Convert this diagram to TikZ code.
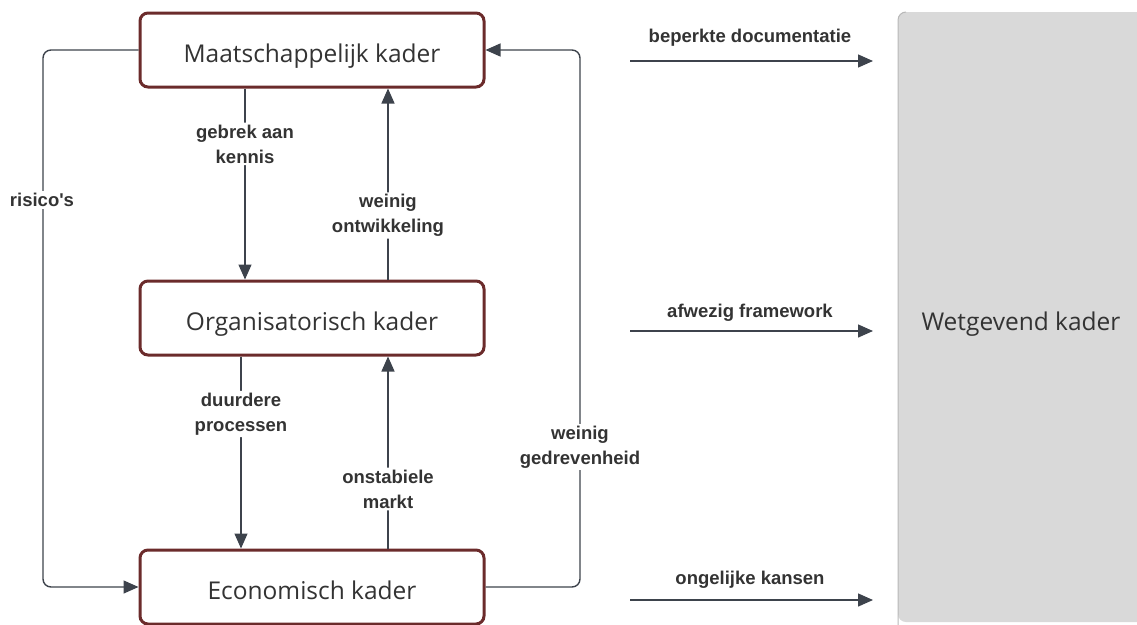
\documentclass[tikz,border=0pt]{standalone}
\usepackage{fontspec}
\setmainfont{Open Sans}
\newfontfamily\labelfont{Liberation Sans}
\usetikzlibrary{arrows.meta}
\definecolor{frame}{HTML}{6B2B2B}
\definecolor{wire}{HTML}{3D434C}
\definecolor{panel}{HTML}{D9D9D9}
\definecolor{paneledge}{HTML}{B8B8B8}
\definecolor{ink}{HTML}{333333}
\begin{document}
\begin{tikzpicture}[x=1pt,y=-1pt,
  boxfont/.style={font=\fontsize{24.5}{28}\selectfont,text=ink,
    text height=24pt,text depth=0pt},
  kader/.style={draw=frame,line width=3pt,rounded corners=8pt,fill=white,
    minimum width=344pt,minimum height=74pt,inner sep=0pt,boxfont},
  wire/.style={draw=wire,line width=1.4pt,rounded corners=8pt,
    -{Triangle[length=15pt,width=13pt]}},
  lbl/.style={fill=white,inner sep=2pt,align=center,text=ink,
    font=\labelfont\bfseries\fontsize{18.5}{25}\selectfont}]
\useasboundingbox (0,0) rectangle (1137,624);

% legislative panel on the right
\fill[panel,rounded corners=8pt] (898,12) rectangle (1150,622);
\draw[paneledge,line width=1pt,rounded corners=8pt] (898,630) -- (898,12) -- (906,12);
\node[boxfont,inner sep=0pt] (wet) at (1021,318) {Wetgevend kader};

% the three frameworks
\node[kader] (maat) at (312,50) {Maatschappelijk kader};
\node[kader] (org) at (312,318) {Organisatorisch kader};
\node[kader] (eco) at (312,587) {Economisch kader};

% vertical links between the frameworks
\draw[wire] (maat.south -| 245,0) -- (org.north -| 245,0)
  node[lbl,pos=0.29] {gebrek aan\\kennis};
\draw[wire] (org.north -| 388,0) -- (maat.south -| 388,0)
  node[lbl,pos=0.335] {weinig\\ontwikkeling};
\draw[wire] (org.south -| 241,0) -- (eco.north -| 241,0)
  node[lbl,pos=0.3] {duurdere\\processen};
\draw[wire] (eco.north -| 388,0) -- (org.south -| 388,0)
  node[lbl,pos=0.31] {onstabiele\\markt};

% outer loops
\draw[wire] (maat.west) -| (43,300) |- (eco.west);
\node[lbl] (risk) at (42,200) {risico's};
\draw[wire] (eco.east) -| (580,300) |- (maat.east);
\node[lbl] (drive) at (580,447) {weinig\\gedrevenheid};

% arrows towards the legislative panel
\coordinate (a1) at (630,61);  \coordinate (b1) at (873,61);
\coordinate (a2) at (630,331); \coordinate (b2) at (873,331);
\coordinate (a3) at (630,600); \coordinate (b3) at (873,600);
\draw[wire] (a1) -- (b1);
\draw[wire] (a2) -- (b2);
\draw[wire] (a3) -- (b3);
\node[lbl] (t1) at (750,38) {beperkte documentatie};
\node[lbl] (t2) at (750,313) {afwezig framework};
\node[lbl] (t3) at (750,580) {ongelijke kansen};
\end{tikzpicture}
\end{document}
